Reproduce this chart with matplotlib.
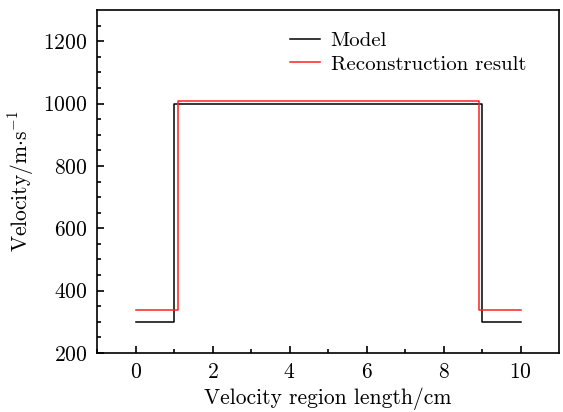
import numpy as np
import matplotlib
matplotlib.use('Agg')
import matplotlib.pyplot as plt

plt.rcParams['font.family'] = 'serif'
plt.rcParams['font.serif'] = ['cmr10']
plt.rcParams['mathtext.fontset'] = 'cm'
plt.rcParams['axes.formatter.use_mathtext'] = True

# step edges (cm) and velocities (m/s)
model_x = [0, 1, 1, 9, 9, 10]
model_v = [300, 300, 1000, 1000, 300, 300]
recon_x = [0, 1.1, 1.1, 8.92, 8.92, 10]
recon_v = [337, 337, 1009, 1009, 337, 337]

fig = plt.figure(figsize=(5.63, 4.12), dpi=100)
ax = fig.add_axes([0.1723, 0.1432, 0.8206, 0.8325])

ax.plot(model_x, model_v, color='black', lw=1.1, label='Model')
ax.plot(recon_x, recon_v, color='#ff2020', lw=1.1, label='Reconstruction result')

ax.set_xlim(-1, 11)
ax.set_ylim(200, 1300)
ax.set_xticks([0, 2, 4, 6, 8, 10])
ax.set_xticks(np.arange(-1, 11, 1), minor=True)
ax.set_yticks([200, 400, 600, 800, 1000, 1200])
ax.set_yticks(np.arange(200, 1300, 50), minor=True)
ax.tick_params(direction='in', which='both', labelsize=15.5, width=1.2)
ax.tick_params(which='major', length=5, pad=7)
ax.tick_params(which='minor', length=3)
for s in ax.spines.values():
    s.set_linewidth(1.2)

ax.set_xlabel('Velocity region length/cm', fontsize=15.5, labelpad=4)
ax.set_ylabel(r'Velocity/m$\cdot$s$^{-1}$', fontsize=15.5, labelpad=5)

ax.legend(loc='upper left', bbox_to_anchor=(0.400, 0.962), frameon=False,
          fontsize=15, handlelength=1.45, handletextpad=0.5,
          labelspacing=0.25, borderaxespad=0)

fig.savefig('out.png', dpi=100)
